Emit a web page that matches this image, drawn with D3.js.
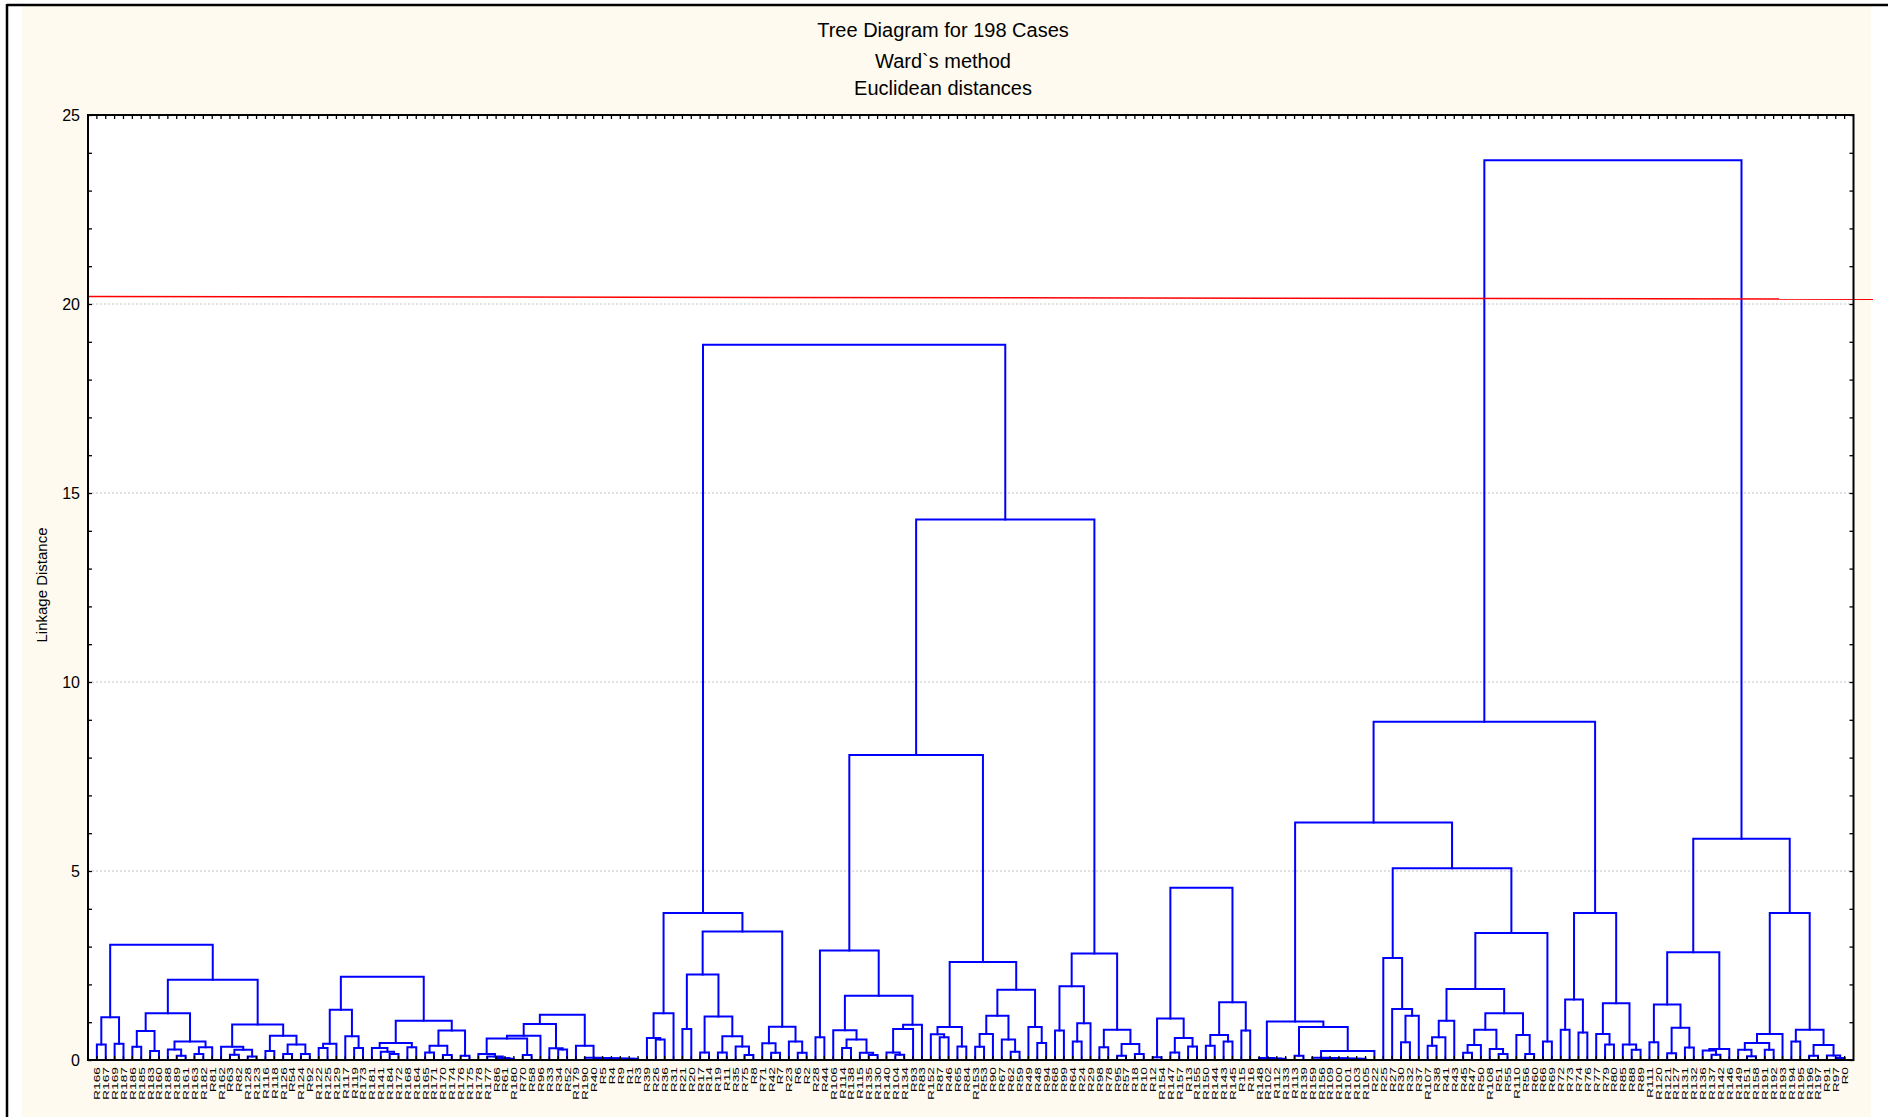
<!DOCTYPE html>
<html>
<head>
<meta charset="utf-8">
<script src="https://cdn.jsdelivr.net/npm/d3@7"></script>
<style>
  html, body { margin: 0; padding: 0; background: #ffffff; }
  svg { display: block; }
</style>
</head>
<body>
<svg id="chart" width="1888" height="1117"></svg>
<script>
// Case names in dendrogram leaf order (left to right)
const caseLabels = [
  "R166","R167","R169","R187","R186","R185","R183","R160","R188","R189",
  "R161","R163","R182","R81","R162","R63","R82","R128","R123","R116",
  "R118","R126","R54","R124","R92","R122","R125","R129","R117","R119",
  "R173","R181","R141","R184","R172","R168","R164","R165","R171","R170",
  "R174","R176","R175","R178","R177","R86","R61","R180","R70","R58",
  "R96","R33","R34","R52","R179","R190","R40","R5","R4","R9",
  "R1","R3","R39","R26","R36","R31","R21","R20","R17","R14",
  "R19","R11","R35","R75","R8","R71","R42","R7","R23","R6",
  "R2","R28","R44","R106","R114","R138","R115","R135","R130","R140",
  "R104","R134","R93","R83","R152","R87","R46","R65","R84","R153",
  "R53","R90","R67","R62","R59","R49","R48","R94","R68","R99",
  "R64","R24","R29","R98","R78","R95","R57","R18","R10","R12",
  "R154","R147","R157","R13","R155","R150","R144","R143","R145","R15",
  "R16","R148","R102","R112","R133","R113","R139","R159","R156","R109",
  "R100","R101","R103","R105","R22","R25","R27","R30","R32","R37",
  "R107","R38","R41","R43","R45","R47","R50","R108","R51","R55",
  "R110","R56","R60","R66","R69","R72","R73","R74","R76","R77",
  "R79","R80","R85","R88","R89","R111","R120","R121","R127","R131",
  "R132","R136","R137","R142","R146","R149","R151","R158","R191","R192",
  "R193","R194","R195","R196","R197","R91","R97","R0"
];

// Linkage distance at which case i and case i+1 end up in the same cluster.
// null: the two cases are not joined within the plotted distance range.
const joinHeights = [
  // cases 0-24
  0.41, 1.13, 0.43, 3.05, 0.35, 0.77, 0.24, 1.24, 0.28, 0.11,
  0.49, 0.16, 0.34, 2.12, 0.35, 0.14, 0.27, 0.09, 0.94, 0.24,
  0.64, 0.16, 0.41, 0.16, null,
  // cases 25-42
  0.32, 0.43, 1.33, 0.63, 0.32, 2.2, 0.32, 0.22, 0.16, 0.45,
  0.34, 1.04, 0.2, 0.38, 0.13, 0.78, 0.11, null,
  // cases 43-61
  0.16, 0.09, 0.05, 0.03, 0.57, 0.13, 0.64, 0.95, 0.31, 0.28,
  1.2, 0.38, 0.06, 0.05, 0.045, 0.04, 0.035, 0.03, null,
  // cases 62-118
  0.58, 0.54, 1.24, 3.89, 0.82, 2.26, 0.2, 1.15, 0.2, 0.63,
  0.36, 0.13, 3.4, 0.44, 0.19, 0.88, 0.49, 0.19, 18.92, 0.6,
  2.9, 0.79, 0.32, 0.54, 0.19, 0.13, 1.7, 0.2, 0.14, 0.82,
  0.93, 8.07, 0.68, 0.6, 0.87, 0.36, 2.59, 0.35, 0.69, 1.17,
  0.54, 0.22, 1.86, 0.87, 0.45, 14.3, 0.78, 1.95, 0.49, 0.97,
  2.82, 0.34, 0.8, 0.11, 0.42, 0.16, null,
  // cases 119-130
  0.07, 1.1, 0.2, 0.58, 0.36, 4.56, 0.38, 0.66, 0.49, 1.53,
  0.78, null,
  // cases 131-197
  0.05, 0.04, 0.03, 1.02, 0.11, 0.87, 0.06, 0.05, 0.045, 0.04,
  0.035, 0.03, 0.24, 6.28, 2.7, 1.35, 0.47, 1.17, 5.07, 0.38,
  0.6, 1.04, 1.88, 0.19, 0.4, 0.8, 0.29, 0.16, 1.24, 0.66,
  0.16, 3.36, 0.49, 8.95, 0.8, 1.6, 0.73, 3.89, 0.69, 0.41,
  1.5, 0.41, 0.27, 23.8, 0.47, 1.47, 0.18, 0.85, 0.33, 2.85,
  0.25, 0.14, 0.29, 5.85, 0.27, 0.1, 0.45, 0.27, 0.69, 3.89,
  0.49, 0.8, 0.11, 0.4, 0.12, 0.05
];

const yTickValues = [0, 5, 10, 15, 20, 25];
const gridValues = [5, 10, 15, 20];
const cutLineEnds = [20.2, 20.13];   // red cut line, left end and right end
const titleLines = ["Tree Diagram for 198 Cases", "Ward`s method", "Euclidean distances"];
const yAxisTitle = "Linkage Distance";

// ---------------------------------------------------------------
const W = 1888, H = 1117;
const plot = { left: 88, right: 1853.5, top: 115, bottom: 1060 };
const FONT = "'Liberation Sans', Arial, Helvetica, sans-serif";
const BLUE = "#0000ff";

const nCases = caseLabels.length;
const x = d3.scaleLinear().domain([0, nCases + 1]).range([plot.left, plot.right]);
const y = d3.scaleLinear().domain([0, 25]).range([plot.bottom, plot.top]);

const svg = d3.select("#chart");

// page frame and panel background
svg.append("rect").attr("x", 0).attr("y", 0).attr("width", W).attr("height", H).attr("fill", "#ffffff");
svg.append("rect").attr("x", 22).attr("y", 6).attr("width", 1871 - 22).attr("height", H - 6).attr("fill", "#fefaef");
svg.append("line").attr("x1", 7).attr("x2", W).attr("y1", 5).attr("y2", 5)
  .attr("stroke", "#000").attr("stroke-width", 2.5);
svg.append("line").attr("x1", 7).attr("x2", 7).attr("y1", 4).attr("y2", H)
  .attr("stroke", "#000").attr("stroke-width", 2.5);

// plot area
svg.append("rect")
  .attr("x", plot.left).attr("y", plot.top)
  .attr("width", plot.right - plot.left).attr("height", plot.bottom - plot.top)
  .attr("fill", "#ffffff");

// dotted grid
svg.append("g").selectAll("line").data(gridValues).join("line")
  .attr("x1", plot.left).attr("x2", plot.right)
  .attr("y1", d => y(d)).attr("y2", d => y(d))
  .attr("stroke", "#c4c4c4").attr("stroke-width", 1).attr("stroke-dasharray", "2,2");

// titles
const titleY = [37, 68, 95];
svg.append("g").selectAll("text").data(titleLines).join("text")
  .attr("x", 943).attr("y", (d, i) => titleY[i])
  .attr("text-anchor", "middle")
  .attr("font-family", FONT).attr("font-size", 20).attr("fill", "#000")
  .text(d => d);

// y axis title
svg.append("text")
  .attr("transform", "translate(47,585) rotate(-90)")
  .attr("text-anchor", "middle")
  .attr("font-family", FONT).attr("font-size", 15).attr("fill", "#000")
  .text(yAxisTitle);

// ---------------------------------------------------------------
// Build the tree from the neighbour join heights: the largest join
// inside a run of cases is the top merge of that run.
function build(a, b) {
  if (a === b) return { name: caseLabels[a], index: a, height: 0, px: x(a + 1) };
  let k = a, best = -1;
  for (let i = a; i < b; i++) {
    const g = joinHeights[i] === null ? Infinity : joinHeights[i];
    if (g > best) { best = g; k = i; }
  }
  const left = build(a, k), right = build(k + 1, b);
  return {
    height: best,
    drawn: isFinite(best),
    px: (left.px + right.px) / 2,
    children: [left, right]
  };
}
const root = d3.hierarchy(build(0, nCases - 1));

const links = root.descendants().filter(n => n.children && n.data.drawn);
const path = d3.path;
svg.append("g").attr("fill", "none").attr("stroke", BLUE).attr("stroke-width", 2)
  .attr("stroke-linejoin", "miter").attr("stroke-linecap", "square")
  .selectAll("path").data(links).join("path")
  .attr("d", n => {
    const [l, r] = n.children;
    const p = path();
    p.moveTo(l.data.px, y(l.data.height));
    p.lineTo(l.data.px, y(n.data.height));
    p.lineTo(r.data.px, y(n.data.height));
    p.lineTo(r.data.px, y(r.data.height));
    return p.toString();
  });

// red cut line
svg.append("line")
  .attr("x1", plot.left).attr("x2", 1873)
  .attr("y1", y(cutLineEnds[0])).attr("y2", y(cutLineEnds[1]))
  .attr("stroke", "#ff0000").attr("stroke-width", 1.6);

// ---------------------------------------------------------------
// axes frame and ticks
const axisG = svg.append("g").attr("stroke", "#000");
const caseIdx = d3.range(nCases);
// top & bottom ticks at every case
axisG.append("g").selectAll("line").data(caseIdx).join("line")
  .attr("x1", i => x(i + 1)).attr("x2", i => x(i + 1))
  .attr("y1", plot.top).attr("y2", plot.top + 4).attr("stroke-width", 1.3);
axisG.append("g").selectAll("line").data(caseIdx).join("line")
  .attr("x1", i => x(i + 1)).attr("x2", i => x(i + 1))
  .attr("y1", plot.bottom).attr("y2", plot.bottom - 4).attr("stroke-width", 1.3);

// left axis: ticks every unit, drawn inward
const leftAxis = d3.axisRight(y).ticks(25).tickSize(4).tickFormat("");
const la = svg.append("g").attr("transform", `translate(${plot.left},0)`).call(leftAxis);
la.select(".domain").remove();
la.selectAll("line").attr("stroke", "#000").attr("stroke-width", 1.3);

const rightAxis = d3.axisLeft(y).ticks(25).tickSize(4).tickFormat("");
const ra = svg.append("g").attr("transform", `translate(${plot.right},0)`).call(rightAxis);
ra.select(".domain").remove();
ra.selectAll("line").attr("stroke", "#000").attr("stroke-width", 1.3);

// tick labels
svg.append("g").selectAll("text").data(yTickValues).join("text")
  .attr("x", 80).attr("y", d => y(d))
  .attr("dy", "0.36em")
  .attr("text-anchor", "end")
  .attr("font-family", FONT).attr("font-size", 16).attr("fill", "#000")
  .text(d => d);

// frame
svg.append("rect")
  .attr("x", plot.left).attr("y", plot.top)
  .attr("width", plot.right - plot.left).attr("height", plot.bottom - plot.top)
  .attr("fill", "none").attr("stroke", "#000").attr("stroke-width", 2);

// case labels, written upward beneath each leaf
svg.append("g").selectAll("text").data(caseLabels).join("text")
  .attr("transform", (d, i) => `translate(${x(i + 1)},${plot.bottom + 7}) rotate(-90) scale(1.45,1)`)
  .attr("dy", "0.36em")
  .attr("text-anchor", "end")
  .attr("font-family", FONT).attr("font-size", 9.5).attr("fill", "#000")
  .text(d => d);
</script>
</body>
</html>
